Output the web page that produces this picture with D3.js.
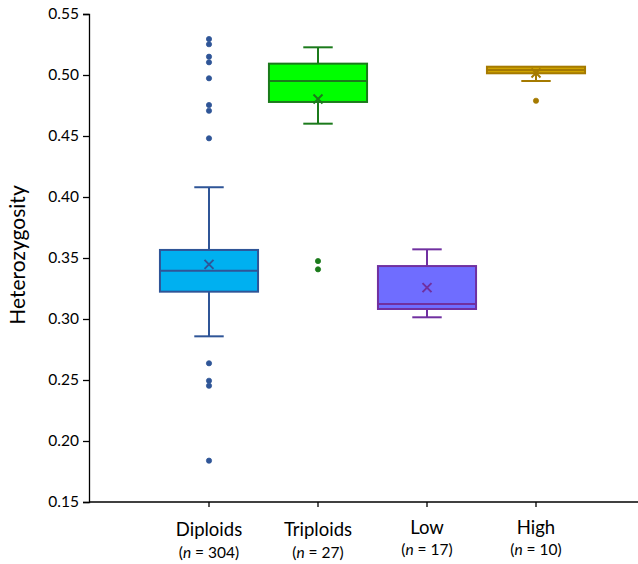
<!DOCTYPE html>
<html lang="en">
<head>
<meta charset="utf-8">
<title>Heterozygosity box plot</title>
<script src="https://cdn.jsdelivr.net/npm/d3@7"></script>
<style>
  body { margin: 0; background: #fff; }
  text { font-family: Lato, "Open Sans", sans-serif; fill: #000; }
</style>
</head>
<body>
<div id="chart"></div>
<script>
// groups and their counts
var groups = ["Diploids", "Triploids", "Low", "High"];
var counts = [304, 27, 17, 10];

// box statistics
var q1 = [0.3224, 0.4779, 0.3082, 0.5014];
var medians = [0.3396, 0.4951, 0.3123, 0.5041];
var q3 = [0.3566, 0.5093, 0.3434, 0.5068];
var whiskLow = [0.2858, 0.4601, 0.3014, 0.4951];
var whiskHigh = [0.4080, 0.5227, 0.3571, 0.5068];
var means = [0.3448, 0.4803, 0.3257, 0.5016];

var outliers = [
  [0.5295, 0.5252, 0.5150, 0.5104, 0.4973, 0.4754, 0.4707, 0.4481, 0.2637, 0.2494, 0.2453, 0.1839],
  [0.3475, 0.3407],
  [],
  [0.4789]
];

var yTicks = [0.15, 0.20, 0.25, 0.30, 0.35, 0.40, 0.45, 0.50, 0.55];

var fills = ["#00b0f0", "#00ff00", "#6f6dff", "#cfa300"];
var strokes = ["#2f5597", "#1b7a1b", "#7030a0", "#a57a00"];

var w = 638, h = 564;
var svg = d3.select("#chart").append("svg")
  .attr("width", w).attr("height", h);

var y = d3.scaleLinear().domain([0.15, 0.55]).range([502, 14]);
var x = d3.scaleBand().domain(groups).range([154.5, 590.5]).padding(0);
var bw = x.bandwidth();
var boxW = bw * 0.9;
var capW = bw * 0.27;

// y axis
var yAxis = d3.axisLeft(y).tickValues(yTicks).tickFormat(d3.format(".2f")).tickSizeOuter(0).tickSize(6).tickPadding(4);
var gy = svg.append("g").attr("transform", "translate(89,0)").call(yAxis);
gy.select(".domain").attr("stroke", "#000").attr("stroke-width", 1.3);
gy.selectAll(".tick line").attr("stroke", "#000").attr("stroke-width", 1.3);
gy.selectAll(".tick text").style("font-size", "15.5px").attr("fill", "#000");

// x axis line and ticks
svg.append("line")
  .attr("x1", 89).attr("x2", 638).attr("y1", 502).attr("y2", 502)
  .attr("stroke", "#000").attr("stroke-width", 1.3);
svg.selectAll(".xtick").data(groups).enter().append("line")
  .attr("x1", function(d) { return x(d) + bw / 2; })
  .attr("x2", function(d) { return x(d) + bw / 2; })
  .attr("y1", 502).attr("y2", 507)
  .attr("stroke", "#000").attr("stroke-width", 1.3);

// category labels
svg.selectAll(".cat").data(groups).enter().append("text")
  .attr("x", function(d) { return x(d) + bw / 2; })
  .attr("y", function(d, i) { return i >= 2 ? 534 : 536; })
  .attr("text-anchor", "middle")
  .style("font-size", "18.5px")
  .text(function(d) { return d; });

var nl = svg.selectAll(".nlab").data(counts).enter().append("text")
  .attr("x", function(d, i) { return x(groups[i]) + bw / 2; })
  .attr("y", function(d, i) { return i >= 2 ? 555 : 558; })
  .attr("text-anchor", "middle")
  .style("font-size", "15.5px");
nl.append("tspan").text("(");
nl.append("tspan").attr("font-style", "italic").text("n");
nl.append("tspan").text(function(d) { return " = " + d + ")"; });

// axis title
svg.append("text")
  .attr("transform", "translate(25,255) rotate(-90)")
  .attr("text-anchor", "middle")
  .style("font-size", "21px")
  .text("Heterozygosity");

// boxes
groups.forEach(function(g, i) {
  var cx = x(g) + bw / 2;
  var gg = svg.append("g");
  var sc = strokes[i];

  // whiskers
  gg.append("line").attr("x1", cx).attr("x2", cx)
    .attr("y1", y(q3[i])).attr("y2", y(whiskHigh[i]))
    .attr("stroke", sc).attr("stroke-width", 2);
  gg.append("line").attr("x1", cx).attr("x2", cx)
    .attr("y1", y(q1[i])).attr("y2", y(whiskLow[i]))
    .attr("stroke", sc).attr("stroke-width", 2);
  if (whiskHigh[i] > q3[i]) {
    gg.append("line").attr("x1", cx - capW / 2).attr("x2", cx + capW / 2)
      .attr("y1", y(whiskHigh[i])).attr("y2", y(whiskHigh[i]))
      .attr("stroke", sc).attr("stroke-width", 2);
  }
  gg.append("line").attr("x1", cx - capW / 2).attr("x2", cx + capW / 2)
    .attr("y1", y(whiskLow[i])).attr("y2", y(whiskLow[i]))
    .attr("stroke", sc).attr("stroke-width", 2);

  // box
  gg.append("rect")
    .attr("x", cx - boxW / 2).attr("width", boxW)
    .attr("y", y(q3[i])).attr("height", y(q1[i]) - y(q3[i]))
    .attr("fill", fills[i]).attr("stroke", sc).attr("stroke-width", 2);
  gg.append("line").attr("x1", cx - boxW / 2).attr("x2", cx + boxW / 2)
    .attr("y1", y(medians[i])).attr("y2", y(medians[i]))
    .attr("stroke", sc).attr("stroke-width", 2);

  // mean cross
  var my = y(means[i]), s = 4.5;
  gg.append("path")
    .attr("d", "M" + (cx - s) + "," + (my - s) + "L" + (cx + s) + "," + (my + s) +
               "M" + (cx - s) + "," + (my + s) + "L" + (cx + s) + "," + (my - s))
    .attr("stroke", sc).attr("stroke-width", 2).attr("fill", "none");

  // outliers
  gg.selectAll("circle").data(outliers[i]).enter().append("circle")
    .attr("cx", cx).attr("cy", function(d) { return y(d); })
    .attr("r", 2.6)
    .attr("fill", sc).attr("stroke", sc).attr("stroke-width", 0.8);
});
</script>
</body>
</html>
